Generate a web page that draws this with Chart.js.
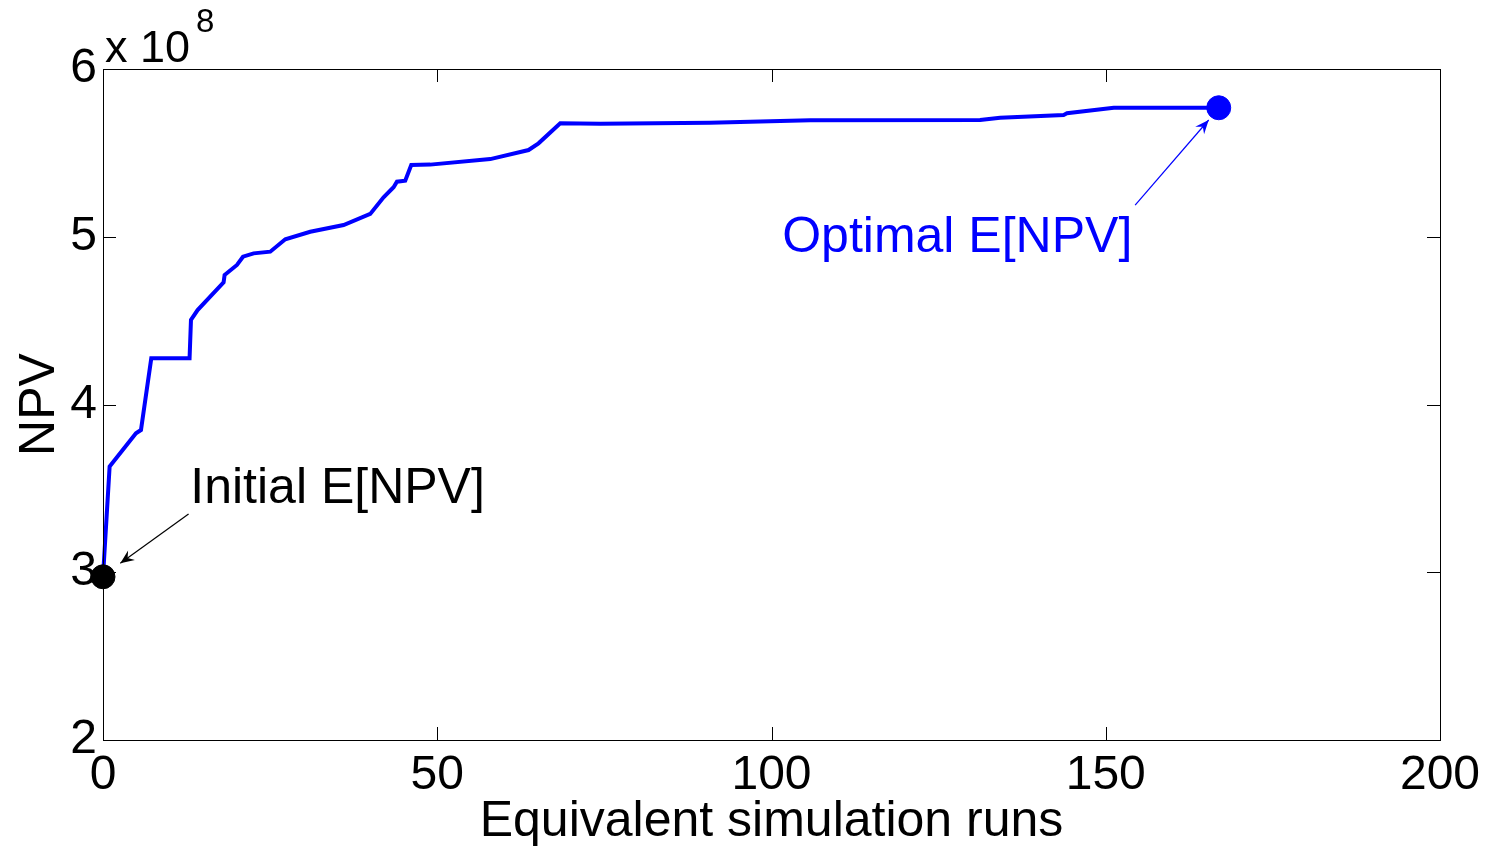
<!DOCTYPE html>
<html>
<head>
<meta charset="utf-8">
<script src="https://cdn.jsdelivr.net/npm/chart.js@4.4.0/dist/chart.umd.min.js"></script>
<style>
    html, body { margin: 0; padding: 0; background: #fff; }
    #wrap { width: 1493px; height: 846px; }
</style>
</head>
<body>
<div id="wrap"><canvas id="npvChart" width="1493" height="846"></canvas></div>
<script>
// optimisation history: equivalent simulation runs vs NPV (units of 1e8)
var runs = [0, 0.99, 4.93, 5.68, 7.22, 12.95, 13.16, 14.15, 18.04, 18.19, 20.04, 20.94, 22.53, 25.02,
    27.27, 31.0, 35.99, 39.98, 41.97, 43.47, 43.97, 45.21, 46.11, 48.95, 57.93, 63.66, 65.15, 68.4,
    74.4, 90.8, 105.8, 131.2, 134.2, 143.7, 144.2, 151.2, 166.9];
var npv = [2.973, 3.63, 3.828, 3.848, 4.275, 4.275, 4.504, 4.563, 4.728, 4.772, 4.832, 4.881, 4.901, 4.911,
    4.985, 5.03, 5.07, 5.136, 5.235, 5.295, 5.328, 5.334, 5.428, 5.43, 5.463, 5.517, 5.557, 5.676,
    5.674, 5.68, 5.694, 5.696, 5.71, 5.726, 5.736, 5.769, 5.769];

var xTicks = [0, 50, 100, 150, 200];
var yTicks = [2, 3, 4, 5, 6];

// annotations: label position, arrow tail and arrow tip in data units
var initialLabel = { text: 'Initial E[NPV]', x: 13.06, y: 3.411, tail: [12.8, 3.347], tip: [2.59, 3.053], color: '#000000' };
var optimalLabel = { text: 'Optimal E[NPV]', x: 101.6, y: 4.911, tail: [154.4, 5.189], tip: [165.4, 5.696], color: '#0000ff' };

var fontFamily = '"Liberation Sans", Arial, Helvetica, sans-serif';

function drawArrow(ctx, x0, y0, x1, y1, color) {
    let ang = Math.atan2(y1 - y0, x1 - x0);
    let len = 15, spread = 0.4;
    ctx.save();
    ctx.strokeStyle = color;
    ctx.fillStyle = color;
    ctx.lineWidth = 1.2;
    ctx.beginPath();
    ctx.moveTo(x0, y0);
    ctx.lineTo(x1, y1);
    ctx.stroke();
    ctx.beginPath();
    ctx.moveTo(x1 - len * Math.cos(ang - spread), y1 - len * Math.sin(ang - spread));
    ctx.lineTo(x1, y1);
    ctx.lineTo(x1 - len * Math.cos(ang + spread), y1 - len * Math.sin(ang + spread));
    ctx.lineTo(x1 - len * 0.6 * Math.cos(ang), y1 - len * 0.6 * Math.sin(ang));
    ctx.closePath();
    ctx.fill();
    ctx.restore();
}

// box, inward ticks, exponent and annotations
var frame = {
    id: 'frame',
    afterDraw: function (chart) {
        let ctx = chart.ctx;
        let a = chart.chartArea;
        let xs = chart.scales.x, ys = chart.scales.y;
        let tl = 13;
        ctx.save();
        ctx.strokeStyle = '#000';
        ctx.lineWidth = 1;
        ctx.strokeRect(a.left + 0.5, a.top + 0.5, a.right - a.left, a.bottom - a.top);
        ctx.beginPath();
        xs.ticks.forEach(function (t) {
            let px = Math.round(xs.getPixelForValue(t.value)) + 0.5;
            ctx.moveTo(px, a.bottom); ctx.lineTo(px, a.bottom - tl);
            ctx.moveTo(px, a.top); ctx.lineTo(px, a.top + tl);
        });
        ys.ticks.forEach(function (t) {
            let py = Math.round(ys.getPixelForValue(t.value)) + 0.5;
            ctx.moveTo(a.left, py); ctx.lineTo(a.left + tl, py);
            ctx.moveTo(a.right, py); ctx.lineTo(a.right - tl, py);
        });
        ctx.stroke();

        // exponent
        ctx.fillStyle = '#000';
        ctx.textBaseline = 'alphabetic';
        ctx.textAlign = 'left';
        ctx.font = '45px ' + fontFamily;
        ctx.fillText('x 10', a.left + 2, a.top - 7);
        ctx.font = '33px ' + fontFamily;
        ctx.fillText('8', a.left + 93, a.top - 37);

        [initialLabel, optimalLabel].forEach(function (l) {
            drawArrow(ctx, xs.getPixelForValue(l.tail[0]), ys.getPixelForValue(l.tail[1]),
                xs.getPixelForValue(l.tip[0]), ys.getPixelForValue(l.tip[1]), l.color);
            ctx.fillStyle = l.color;
            ctx.font = '50px ' + fontFamily;
            ctx.textAlign = 'left';
            ctx.textBaseline = 'alphabetic';
            ctx.fillText(l.text, xs.getPixelForValue(l.x), ys.getPixelForValue(l.y));
        });
        ctx.restore();
    }
};

var ctx = document.getElementById('npvChart').getContext('2d');
var npvChart = new Chart(ctx, {
    type: 'scatter',
    data: {
        datasets: [{
            data: runs.map(function (r, i) { return { x: r, y: npv[i] }; }),
            showLine: true,
            borderColor: '#0000ff',
            borderWidth: 4,
            pointRadius: 0,
            tension: 0,
            clip: false,
            order: 2
        }, {
            data: [{ x: runs[0], y: npv[0] }],
            backgroundColor: '#000000',
            borderColor: '#000000',
            pointRadius: 12,
            clip: false,
            order: 1
        }, {
            data: [{ x: runs[runs.length - 1], y: npv[npv.length - 1] }],
            backgroundColor: '#0000ff',
            borderColor: '#0000ff',
            pointRadius: 12,
            clip: false,
            order: 1
        }]
    },
    options: {
        responsive: false,
        animation: false,
        layout: { padding: { left: 0, right: 53, top: 69, bottom: 0 } },
        plugins: { legend: { display: false }, tooltip: { enabled: false } },
        scales: {
            x: {
                type: 'linear',
                min: 0,
                max: 200,
                afterBuildTicks: function (s) { s.ticks = xTicks.map(function (v) { return { value: v }; }); },
                afterFit: function (s) { s.height = 106; },
                grid: { display: false, drawTicks: false },
                border: { display: false },
                ticks: { color: '#000', padding: 7, font: { family: fontFamily, size: 48 }, maxRotation: 0 },
                title: {
                    display: true,
                    text: 'Equivalent simulation runs',
                    color: '#000',
                    padding: { top: 0, bottom: -6 },
                    font: { family: fontFamily, size: 50 }
                }
            },
            y: {
                type: 'linear',
                min: 2,
                max: 6,
                afterBuildTicks: function (s) { s.ticks = yTicks.map(function (v) { return { value: v }; }); },
                afterFit: function (s) { s.width = 103; },
                grid: { display: false, drawTicks: false },
                border: { display: false },
                ticks: { color: '#000', padding: 6, font: { family: fontFamily, size: 48 } },
                title: {
                    display: true,
                    text: 'NPV',
                    color: '#000',
                    padding: { top: 10, bottom: 0 },
                    font: { family: fontFamily, size: 50 }
                }
            }
        }
    },
    plugins: [frame]
});
</script>
</body>
</html>
